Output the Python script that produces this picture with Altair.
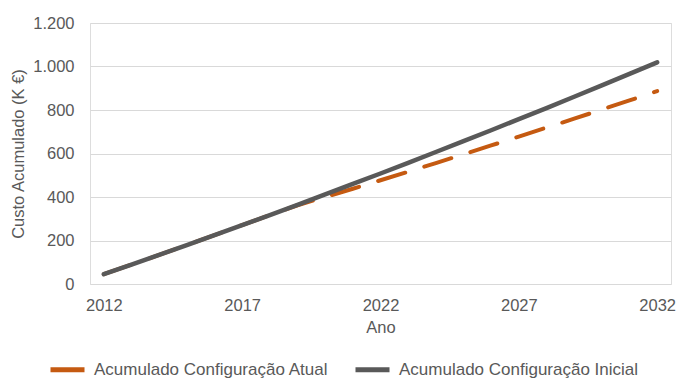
import altair as alt
import pandas as pd

# Accumulated cost (thousand euro) per year for the two configurations
anos = [2012, 2013, 2014, 2015, 2016, 2017, 2018, 2019, 2020, 2021, 2022,
        2023, 2024, 2025, 2026, 2027, 2028, 2029, 2030, 2031, 2032]
acumulado_atual = [45, 89, 134, 179, 225, 271, 317, 362, 400, 438, 477,
                   516, 556, 596, 637, 678, 719, 760, 802, 844, 887]
acumulado_inicial = [45, 89, 134, 179, 225, 271, 317, 364, 412, 460, 508,
                     557, 607, 657, 707, 758, 809, 861, 913, 966, 1019]

serie_atual = "Acumulado Configuração Atual"
serie_inicial = "Acumulado Configuração Inicial"

x_ticks = [2012, 2017, 2022, 2027, 2032]
y_ticks = [0, 200, 400, 600, 800, 1000, 1200]

df = pd.concat([
    pd.DataFrame({"Ano": anos, "Custo": acumulado_atual, "Serie": serie_atual}),
    pd.DataFrame({"Ano": anos, "Custo": acumulado_inicial, "Serie": serie_inicial}),
])

TEXT = "#595959"
FONT = "Liberation Sans"

x = alt.X(
    "Ano:Q",
    scale=alt.Scale(domain=[2011.5, 2032.5], nice=False, zero=False),
    axis=alt.Axis(
        values=x_ticks, format="d", grid=False, ticks=False, domain=False,
        labelPadding=13, labelFontSize=16.5, labelColor=TEXT, labelFont=FONT,
        title="Ano", titleFontSize=16.5, titleColor=TEXT, titleFont=FONT,
        titleFontWeight="normal", titlePadding=6,
    ),
)
y = alt.Y(
    "Custo:Q",
    scale=alt.Scale(domain=[0, 1200], nice=False),
    axis=alt.Axis(
        values=y_ticks,
        labelExpr="replace(format(datum.value, ','), ',', '.')",
        grid=True, gridColor="#D9D9D9", gridWidth=1,
        ticks=False, domain=False,
        labelPadding=16, labelFontSize=16.5, labelColor=TEXT, labelFont=FONT,
        title="Custo Acumulado (K €)", titleFontSize=16.5, titleColor=TEXT,
        titleFont=FONT, titleFontWeight="normal", titlePadding=6,
    ),
)
color = alt.Color(
    "Serie:N",
    scale=alt.Scale(domain=[serie_atual, serie_inicial], range=["#C55A11", "#595959"]),
    legend=alt.Legend(
        title=None, orient="none", legendX=-42, legendY=327,
        direction="horizontal", symbolType="stroke", symbolSize=34 * 34,
        symbolStrokeWidth=5, labelFontSize=17, labelColor=TEXT, labelFont=FONT,
        labelOffset=7, labelLimit=400, columnPadding=16,
    ),
)

base = alt.Chart(df)
linha_atual = base.transform_filter(alt.datum.Serie == serie_atual).mark_line(
    strokeWidth=4, strokeDash=[28.3, 20], strokeCap="round"
).encode(x=x, y=y, color=color)
linha_inicial = base.transform_filter(alt.datum.Serie == serie_inicial).mark_line(
    strokeWidth=4.5, strokeCap="round", strokeJoin="round"
).encode(x=x, y=y, color=color)

chart = alt.layer(linha_atual, linha_inicial).properties(
    width=581, height=261,
    autosize=alt.AutoSizeParams(type="none"),
    padding={"left": 90, "top": 23, "right": 7, "bottom": 95},
).configure_view(stroke=None).configure(background="white")

chart.save("out.html", embed_options={"renderer": "svg", "actions": False})
